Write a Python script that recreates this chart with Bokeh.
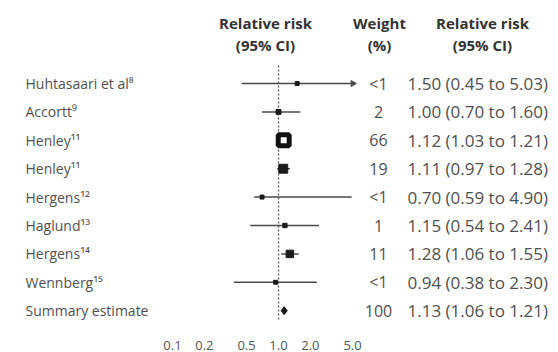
import math
from bokeh.plotting import figure
from bokeh.models import (Range1d, LogScale, LinearAxis, FixedTicker,
                          CustomJSTickFormatter)
from bokeh.embed import file_html
from bokeh.resources import INLINE
from bokeh.core.properties import value

# ---------------- data ----------------
studies = ["Huhtasaari et al⁸", "Accortt⁹", "Henley¹¹", "Henley¹¹",
           "Hergens¹²", "Haglund¹³", "Hergens¹⁴", "Wennberg¹⁵"]
rr = [1.50, 1.00, 1.12, 1.11, 0.70, 1.15, 1.28, 0.94]
lo = [0.45, 0.70, 1.03, 0.97, 0.59, 0.54, 1.06, 0.38]
hi = [5.03, 1.60, 1.21, 1.28, 4.90, 2.41, 1.55, 2.30]
weight_labels = ["<1", "2", "66", "19", "<1", "1", "11", "<1"]
weights = [0.5, 2, 66, 19, 0.5, 1, 11, 0.5]
summary_label = "Summary estimate"
summary_rr = 1.13
summary_lo = 1.06
summary_hi = 1.21
summary_weight = "100"
ticks = [0.1, 0.2, 0.5, 1.0, 2.0, 5.0]
header_plot = ["Relative risk", "(95% CI)"]
header_weight = ["Weight", "(%)"]
header_rr = ["Relative risk", "(95% CI)"]

# ---------------- layout ----------------
W, H = 558, 352
BORDER_B = 32
X_ONE = 278.0          # x of RR = 1
PX_DEC = 106.0         # pixels per decade
ROW0, STEP = 83.0, 28.4
FONT = value("Open Sans")

n = len(studies)
ys = [ROW0 + STEP * i for i in range(n)]
y_sum = ROW0 + STEP * n

p = figure(width=W, height=H, output_backend="svg", toolbar_location=None,
           x_range=Range1d(0, W), y_range=Range1d(H - BORDER_B, 0),
           x_axis_location=None, y_axis_location=None,
           min_border_left=0, min_border_right=0, min_border_top=0,
           min_border_bottom=BORDER_B)
p.extra_x_ranges = {"rr": Range1d(10 ** ((0 - X_ONE) / PX_DEC),
                                  10 ** ((W - X_ONE) / PX_DEC))}
p.extra_x_scales = {"rr": LogScale()}
p.grid.visible = False
p.outline_line_color = None
p.background_fill_color = "white"
p.border_fill_color = "white"

# axis
ax = LinearAxis(x_range_name="rr", ticker=FixedTicker(ticks=ticks),
                formatter=CustomJSTickFormatter(code="return tick.toFixed(1);"))
ax.axis_line_color = None
ax.major_tick_line_color = None
ax.minor_tick_line_color = None
ax.major_label_standoff = 14
ax.major_label_text_font = "Open Sans"
ax.major_label_text_font_size = "13px"
ax.major_label_text_color = "#555555"
p.add_layout(ax, "below")

# reference line at 1
p.segment(x0=[1.0], x1=[1.0], y0=[ROW0 - 18], y1=[y_sum + 22], x_range_name="rr",
          line_color="#555555", line_width=1.3, line_dash="2 2")

# confidence intervals
p.segment(x0=lo, x1=hi, y0=ys, y1=ys, x_range_name="rr",
          line_color="#4a4a4a", line_width=1.5)

# arrows for intervals beyond the axis
arr_x = [h for h in hi if h > ticks[-1]]
arr_y = [y for h, y in zip(hi, ys) if h > ticks[-1]]
p.scatter(x=arr_x, y=arr_y, x_range_name="rr", marker="triangle",
          angle=-math.pi / 2, size=6, fill_color="#4a4a4a", line_color="#4a4a4a")

# point estimates (size by weight)
sizes = [3 + 1.35 * math.sqrt(w) for w in weights]
small = [i for i, w in enumerate(weights) if w < 50]
big = [i for i, w in enumerate(weights) if w >= 50]
p.scatter(x=[rr[i] for i in small], y=[ys[i] for i in small],
          size=[sizes[i] for i in small], x_range_name="rr", marker="square",
          fill_color="#1a1a1a", line_color="#1a1a1a")
p.scatter(x=[rr[i] for i in big], y=[ys[i] for i in big],
          size=[sizes[i] - 3 for i in big], x_range_name="rr", marker="square",
          fill_color="white", line_color="#111111", line_width=5)

# summary diamond
p.patch(x=[summary_lo, summary_rr, summary_hi, summary_rr],
        y=[y_sum, y_sum - 4, y_sum, y_sum + 4], x_range_name="rr",
        fill_color="#1a1a1a", line_color="#1a1a1a")

# left labels
p.text(x=[25] * (n + 1), y=ys + [y_sum], text=studies + [summary_label],
       text_font=FONT, text_font_size="14px", text_color="#505050",
       text_align="left", text_baseline="middle")

# weights
p.text(x=[378] * (n + 1), y=ys + [y_sum], text=weight_labels + [summary_weight],
       text_font=FONT, text_font_size="16px", text_color="#505050",
       text_align="center", text_baseline="middle")

# RR text
rr_txt = [f"{a:.2f} ({b:.2f} to {c:.2f})" for a, b, c in zip(rr, lo, hi)]
rr_txt.append(f"{summary_rr:.2f} ({summary_lo:.2f} to {summary_hi:.2f})")
p.text(x=[407] * (n + 1), y=ys + [y_sum], text=rr_txt,
       text_font=FONT, text_font_size="17px", text_color="#505050",
       text_align="left", text_baseline="middle")

# headers
for cx, lines in ((265, header_plot), (379, header_weight), (482, header_rr)):
    p.text(x=[cx, cx], y=[22, 44], text=lines, text_font=FONT,
           text_font_size="15px", text_font_style="bold", text_color="#333333",
           text_align="center", text_baseline="middle")

open("out.html", "w").write(file_html(p, INLINE))
